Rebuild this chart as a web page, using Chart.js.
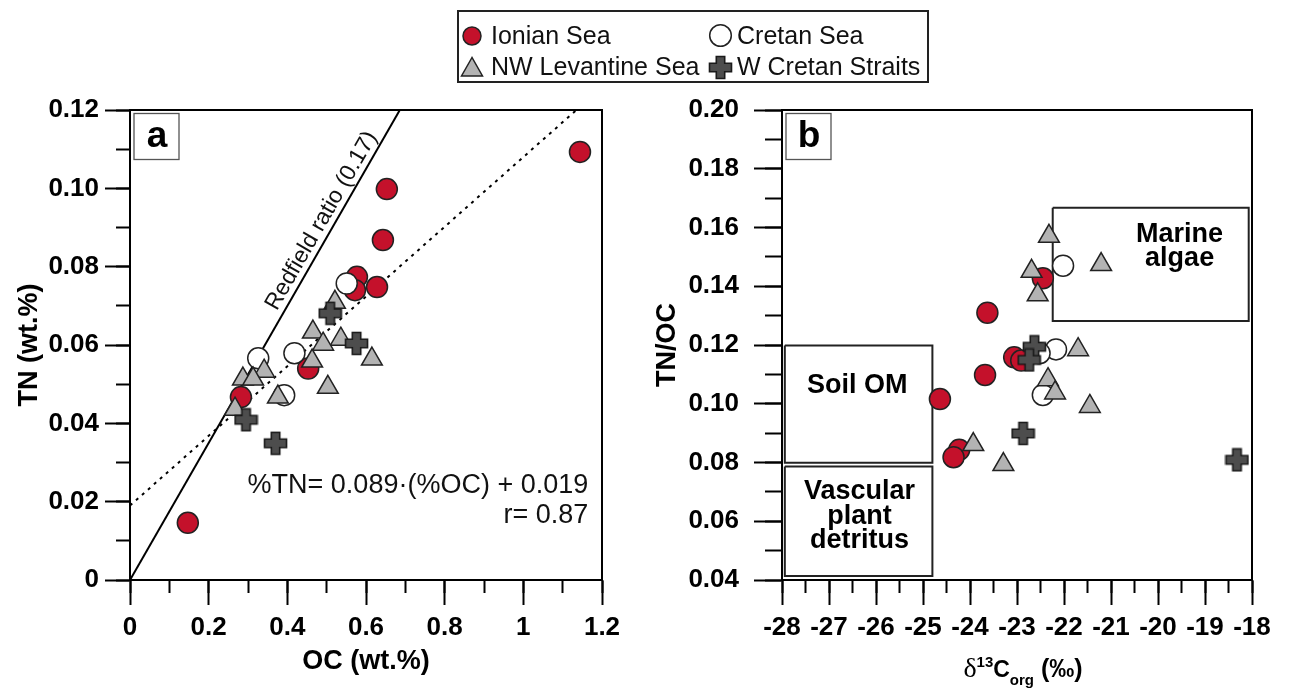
<!DOCTYPE html>
<html>
<head>
<meta charset="utf-8">
<script src="https://cdn.jsdelivr.net/npm/chart.js@4.4.1/dist/chart.umd.min.js"></script>
<style>
  body { margin: 0; background: #fff; }
  #wrap { position: relative; width: 1289px; height: 695px; overflow: hidden; background: #fff;
          font-family: "Liberation Sans", Arial, sans-serif; }
  #wrap canvas { position: absolute; left: 0; top: 0; }
  #legendBox { position: absolute; left: 457px; top: 10px; width: 468px; height: 69px; border: 2px solid #222; }
  .lg { position: absolute; font-size: 25px; line-height: 25px; white-space: nowrap; color: #111; }
  .lg svg { position: absolute; }
</style>
</head>
<body>
<div id="wrap">
  <canvas id="chartA" width="1289" height="695"></canvas>
  <canvas id="chartB" width="1289" height="695"></canvas>
  <div id="legendBox"></div>
  <div class="lg" style="left:491px;top:23px">Ionian Sea</div>
  <div class="lg" style="left:737px;top:23px">Cretan Sea</div>
  <div class="lg" style="left:491px;top:54px">NW Levantine Sea</div>
  <div class="lg" style="left:737px;top:54px">W Cretan Straits</div>
  <svg class="lg" style="left:461px;top:25px" width="22" height="22"><circle cx="11" cy="11" r="9" fill="#c4112b" stroke="#222" stroke-width="1.5"/></svg>
  <svg class="lg" style="left:708px;top:23px" width="25" height="25"><circle cx="12.5" cy="12.5" r="10.8" fill="#fff" stroke="#222" stroke-width="1.5"/></svg>
  <svg class="lg" style="left:460px;top:56px" width="24" height="22"><polygon points="12,1.5 1.5,20 22.5,20" fill="#b3b3b3" stroke="#222" stroke-width="1.5"/></svg>
  <svg class="lg" style="left:708px;top:55px" width="25" height="25"><polygon points="8.3,1.5 16.7,1.5 16.7,8.3 23.5,8.3 23.5,16.7 16.7,16.7 16.7,23.5 8.3,23.5 8.3,16.7 1.5,16.7 1.5,8.3 8.3,8.3" fill="#4d4d4d" stroke="#1a1a1a" stroke-width="1.6"/></svg>
</div>
<script>
// ---- panel a: TN vs OC ----
const ionianOC = [0.147, 0.282, 0.453, 0.577, 0.572, 0.628, 0.643, 0.653, 1.144];
const ionianTN = [0.0146, 0.0467, 0.054, 0.0774, 0.074, 0.0748, 0.0868, 0.0998, 0.1093];
const cretanOC = [0.326, 0.418, 0.392, 0.551];
const cretanTN = [0.0566, 0.0579, 0.0472, 0.0757];
const levOC = [0.521, 0.465, 0.536, 0.491, 0.615, 0.463, 0.341, 0.287, 0.313, 0.376, 0.503, 0.267];
const levTN = [0.0709, 0.0633, 0.0615, 0.0602, 0.0564, 0.0559, 0.0533, 0.0513, 0.0513, 0.0467, 0.0492, 0.0436];
const wcsOC = [0.509, 0.576, 0.295, 0.370];
const wcsTN = [0.0681, 0.0604, 0.0409, 0.0349];

const redfieldOC = [0, 0.686];
const redfieldTN = [0, 0.12];
const regressOC = [0, 1.135];
const regressTN = [0.019, 0.12];

const xTicksA = [0, 0.2, 0.4, 0.6, 0.8, 1, 1.2];
const xLabelsA = ["0", "0.2", "0.4", "0.6", "0.8", "1", "1.2"];
const xMinorA = [0, 0.1, 0.2, 0.3, 0.4, 0.5, 0.6, 0.7, 0.8, 0.9, 1, 1.1, 1.2];
const yTicksA = [0, 0.02, 0.04, 0.06, 0.08, 0.10, 0.12];
const yLabelsA = ["0", "0.02", "0.04", "0.06", "0.08", "0.10", "0.12"];
const yMinorA = [0, 0.01, 0.02, 0.03, 0.04, 0.05, 0.06, 0.07, 0.08, 0.09, 0.10, 0.11, 0.12];

// ---- panel b: TN/OC vs d13C ----
const ionianD13 = [-22.45, -23.63, -23.06, -22.91, -23.68, -24.64, -24.23, -24.35];
const ionianRatio = [0.1427, 0.131, 0.1158, 0.1147, 0.1098, 0.1016, 0.0843, 0.0818];
const cretanD13 = [-22.02, -22.17, -22.52, -22.45];
const cretanRatio = [0.147, 0.1185, 0.1172, 0.103];
const levD13 = [-22.32, -21.21, -22.69, -22.56, -21.70, -22.34, -22.19, -21.45, -23.93, -23.29];
const levRatio = [0.157, 0.1474, 0.1451, 0.1371, 0.1184, 0.1082, 0.1037, 0.0991, 0.0861, 0.0793];
const wcsD13 = [-22.63, -22.74, -22.87, -18.32];
const wcsRatio = [0.1194, 0.1149, 0.0899, 0.0809];

const marineBoxX = [-22.24, -18.07];
const marineBoxY = [0.1282, 0.1667];
const soilBoxX = [-27.94, -24.80];
const soilBoxY = [0.0799, 0.1198];
const vascBoxX = [-27.94, -24.80];
const vascBoxY = [0.0414, 0.0786];

const xTicksB = [-28, -27, -26, -25, -24, -23, -22, -21, -20, -19, -18];
const xLabelsB = ["-28", "-27", "-26", "-25", "-24", "-23", "-22", "-21", "-20", "-19", "-18"];
const xMinorB = [-28, -27.5, -27, -26.5, -26, -25.5, -25, -24.5, -24, -23.5, -23, -22.5, -22, -21.5, -21, -20.5, -20, -19.5, -19, -18.5, -18];
const yTicksB = [0.04, 0.06, 0.08, 0.10, 0.12, 0.14, 0.16, 0.18, 0.20];
const yLabelsB = ["0.04", "0.06", "0.08", "0.10", "0.12", "0.14", "0.16", "0.18", "0.20"];
const yMinorB = [0.04, 0.05, 0.06, 0.07, 0.08, 0.09, 0.10, 0.11, 0.12, 0.13, 0.14, 0.15, 0.16, 0.17, 0.18, 0.19, 0.20];

// annotation text
const redfieldLabel = "Redfield ratio (0.17)";
const redfieldLabelAt = [0.487, 0.0917];
const eqLines = ["%TN= 0.089·(%OC) + 0.019", "r= 0.87"];
const eqAt = [1.165, 0.0222];
const boxTexts = [
  { lines: ["Marine", "algae"], at: [-19.54, 0.1552] },
  { lines: ["Soil OM"], at: [-26.40, 0.1036] },
  { lines: ["Vascular", "plant", "detritus"], at: [-26.35, 0.0675] },
];

const FONT = '"Liberation Sans", Arial, sans-serif';
const RED = "#c4112b";
const GREY = "#b3b3b3";
const EDGE = "#222";

function pts(xs, ys) {
  return xs.map((x, i) => ({ x, y: ys[i] }));
}

function boxPts(bx, by) {
  return pts([bx[0], bx[1], bx[1], bx[0], bx[0]], [by[1], by[1], by[0], by[0], by[1]]);
}

function plusMarker() {
  const c = document.createElement("canvas");
  c.width = 25;
  c.height = 25;
  const g = c.getContext("2d");
  const m = 12.5, h = 4.2, L = 11;
  g.beginPath();
  g.moveTo(m - h, m - L); g.lineTo(m + h, m - L); g.lineTo(m + h, m - h);
  g.lineTo(m + L, m - h); g.lineTo(m + L, m + h); g.lineTo(m + h, m + h);
  g.lineTo(m + h, m + L); g.lineTo(m - h, m + L); g.lineTo(m - h, m + h);
  g.lineTo(m - L, m + h); g.lineTo(m - L, m - h); g.lineTo(m - h, m - h);
  g.closePath();
  g.fillStyle = "#4d4d4d";
  g.fill();
  g.lineWidth = 1.6;
  g.strokeStyle = "#1a1a1a";
  g.stroke();
  return c;
}
const plus = plusMarker();

function groups(ion, cre, lev, wcs) {
  return [
    { label: "W Cretan Straits", data: wcs, pointStyle: plus, pointRadius: 12, order: 0 },
    { label: "NW Levantine Sea", data: lev, pointStyle: "triangle", pointRadius: 12,
      backgroundColor: GREY, borderColor: EDGE, borderWidth: 1.5, order: 1 },
    { label: "Cretan Sea", data: cre, pointStyle: "circle", pointRadius: 10.5,
      backgroundColor: "#fff", borderColor: EDGE, borderWidth: 1.5, order: 2 },
    { label: "Ionian Sea", data: ion, pointStyle: "circle", pointRadius: 10.5,
      backgroundColor: RED, borderColor: EDGE, borderWidth: 1.5, order: 3 },
  ];
}

function scalesFor(c) {
  const tickFont = { family: FONT, size: 26, weight: "bold" };
  const titleFont = { family: FONT, size: 27, weight: "bold" };
  const set = (vals) => (s) => { s.ticks = vals.map((v) => ({ value: v })); };
  return {
    x: {
      type: "linear", position: "bottom", weight: 1, min: c.xMin, max: c.xMax,
      afterBuildTicks: set(c.xTicks),
      afterFit: (s) => { s.height = 115; },
      ticks: { callback: (v, i) => c.xLabels[i], font: tickFont, color: "#000", padding: 7, autoSkip: false, maxRotation: 0 },
      grid: { drawOnChartArea: false, tickLength: 25, tickWidth: 2, tickColor: "#000" },
      border: { display: true, color: "#000", width: 2 },
      title: c.xTitle
        ? { display: true, text: c.xTitle, color: "#000", font: titleFont, padding: { top: 0, bottom: 17 } }
        : { display: false },
    },
    xm: {
      type: "linear", position: "bottom", weight: 0, min: c.xMin, max: c.xMax,
      afterBuildTicks: set(c.xMinor),
      afterFit: (s) => { s.height = 0; },
      ticks: { display: false, autoSkip: false },
      grid: { drawOnChartArea: false, tickLength: 13, tickWidth: 2, tickColor: "#000" },
      border: { display: false },
    },
    y: {
      type: "linear", position: "left", weight: 1, min: c.yMin, max: c.yMax,
      afterBuildTicks: set(c.yTicks),
      afterFit: (s) => { s.width = c.yWidth; },
      ticks: { callback: (v, i) => c.yLabels[i], font: tickFont, color: "#000", padding: c.yPad, autoSkip: false },
      grid: { drawOnChartArea: false, tickLength: c.yTick, tickWidth: 2, tickColor: "#000" },
      border: { display: true, color: "#000", width: 2 },
      title: { display: true, text: c.yTitle, color: "#000", font: titleFont, padding: { top: c.yTitlePad, bottom: 0 } },
    },
    ym: {
      type: "linear", position: "left", weight: 0, min: c.yMin, max: c.yMax,
      afterBuildTicks: set(c.yMinor),
      afterFit: (s) => { s.width = 0; },
      ticks: { display: false, autoSkip: false },
      grid: { drawOnChartArea: false, tickLength: c.yMinorTick, tickWidth: 2, tickColor: "#000" },
      border: { display: false },
    },
  };
}

function frameAndLetter(chart, letter) {
  const { ctx, chartArea: a } = chart;
  ctx.save();
  ctx.strokeStyle = "#000";
  ctx.lineWidth = 2;
  ctx.strokeRect(a.left, a.top, a.right - a.left, a.bottom - a.top);
  ctx.strokeStyle = "#555";
  ctx.lineWidth = 1.3;
  ctx.strokeRect(a.left + 4, a.top + 3.5, 45, 46);
  ctx.fillStyle = "#000";
  ctx.font = "bold 37px " + FONT;
  ctx.textAlign = "center";
  ctx.textBaseline = "alphabetic";
  ctx.fillText(letter, a.left + 27, a.top + 37);
  ctx.restore();
}

const panelADecor = {
  id: "panelADecor",
  afterDraw(chart) {
    const { ctx } = chart;
    const sx = chart.scales.x, sy = chart.scales.y;
    frameAndLetter(chart, "a");
    ctx.save();
    // Redfield label along the solid line
    const p0x = sx.getPixelForValue(redfieldOC[0]), p0y = sy.getPixelForValue(redfieldTN[0]);
    const p1x = sx.getPixelForValue(redfieldOC[1]), p1y = sy.getPixelForValue(redfieldTN[1]);
    ctx.translate(sx.getPixelForValue(redfieldLabelAt[0]), sy.getPixelForValue(redfieldLabelAt[1]));
    ctx.rotate(Math.atan2(p1y - p0y, p1x - p0x));
    ctx.font = "23px " + FONT;
    ctx.fillStyle = "#111";
    ctx.textAlign = "center";
    ctx.textBaseline = "middle";
    ctx.fillText(redfieldLabel, 0, 0);
    ctx.restore();
    // regression equation
    ctx.save();
    ctx.font = "27px " + FONT;
    ctx.fillStyle = "#111";
    ctx.textAlign = "right";
    ctx.textBaseline = "alphabetic";
    const ex = sx.getPixelForValue(eqAt[0]), ey = sy.getPixelForValue(eqAt[1]);
    eqLines.forEach((t, i) => ctx.fillText(t, ex, ey + i * 30));
    ctx.restore();
  },
};

const panelBDecor = {
  id: "panelBDecor",
  afterDraw(chart) {
    const { ctx } = chart;
    const sx = chart.scales.x, sy = chart.scales.y;
    frameAndLetter(chart, "b");
    ctx.save();
    ctx.font = "bold 27px " + FONT;
    ctx.fillStyle = "#000";
    ctx.textAlign = "center";
    ctx.textBaseline = "alphabetic";
    boxTexts.forEach((b) => {
      const bx = sx.getPixelForValue(b.at[0]), by = sy.getPixelForValue(b.at[1]);
      b.lines.forEach((t, i) => ctx.fillText(t, bx, by + i * 24.5));
    });
    ctx.restore();
    // x-axis title: delta 13 C org (permil)
    ctx.save();
    ctx.fillStyle = "#000";
    ctx.textBaseline = "alphabetic";
    ctx.textAlign = "left";
    const parts = [
      { t: "\u03B4", f: '28px "Liberation Serif", serif', dy: 0 },
      { t: "13", f: "bold 15px " + FONT, dy: -10 },
      { t: "C", f: "bold 23px " + FONT, dy: 0 },
      { t: "org", f: "bold 15px " + FONT, dy: 8 },
      { t: " (\u2030)", f: "bold 25px " + FONT, dy: 0 },
    ];
    let total = 0;
    parts.forEach((p) => { ctx.font = p.f; p.w = ctx.measureText(p.t).width; total += p.w; });
    const cx = (chart.chartArea.left + chart.chartArea.right) / 2 + 6;
    let x = cx - total / 2;
    const base = 677;
    parts.forEach((p) => { ctx.font = p.f; ctx.fillText(p.t, x, base + p.dy); x += p.w; });
    ctx.restore();
  },
};

const common = {
  responsive: false,
  animation: false,
  devicePixelRatio: 1,
  plugins: { legend: { display: false }, tooltip: { enabled: false } },
};

new Chart(document.getElementById("chartA"), {
  type: "scatter",
  data: {
    datasets: [
      ...groups(pts(ionianOC, ionianTN), pts(cretanOC, cretanTN), pts(levOC, levTN), pts(wcsOC, wcsTN)),
      { label: "Redfield", data: pts(redfieldOC, redfieldTN), showLine: true, pointRadius: 0,
        borderColor: "#000", borderWidth: 2, order: 5 },
      { label: "Regression", data: pts(regressOC, regressTN), showLine: true, pointRadius: 0,
        borderColor: "#000", borderWidth: 2, borderDash: [3, 5], order: 6 },
    ],
  },
  options: {
    ...common,
    layout: { padding: { left: 0, right: 1289 - 602, top: 110, bottom: 0 } },
    scales: scalesFor({
      xMin: 0, xMax: 1.2, xTicks: xTicksA, xLabels: xLabelsA, xMinor: xMinorA, xTitle: "OC (wt.%)",
      yMin: 0, yMax: 0.12, yTicks: yTicksA, yLabels: yLabelsA, yMinor: yMinorA, yTitle: "TN (wt.%)",
      yWidth: 130, yPad: 6, yTick: 25, yMinorTick: 14, yTitlePad: 13,
    }),
  },
  plugins: [panelADecor],
});

new Chart(document.getElementById("chartB"), {
  type: "scatter",
  data: {
    datasets: [
      ...groups(pts(ionianD13, ionianRatio), pts(cretanD13, cretanRatio), pts(levD13, levRatio), pts(wcsD13, wcsRatio)),
      { label: "Marine algae", data: boxPts(marineBoxX, marineBoxY), showLine: true, pointRadius: 0,
        borderColor: EDGE, borderWidth: 2, order: 5 },
      { label: "Soil OM", data: boxPts(soilBoxX, soilBoxY), showLine: true, pointRadius: 0,
        borderColor: EDGE, borderWidth: 2, order: 5 },
      { label: "Vascular plant detritus", data: boxPts(vascBoxX, vascBoxY), showLine: true, pointRadius: 0,
        borderColor: EDGE, borderWidth: 2, order: 5 },
    ],
  },
  options: {
    ...common,
    layout: { padding: { left: 640, right: 1289 - 1252, top: 110, bottom: 0 } },
    scales: scalesFor({
      xMin: -28, xMax: -18, xTicks: xTicksB, xLabels: xLabelsB, xMinor: xMinorB, xTitle: null,
      yMin: 0.04, yMax: 0.20, yTicks: yTicksB, yLabels: yLabelsB, yMinor: yMinorB, yTitle: "TN/OC",
      yWidth: 142, yPad: 15, yTick: 28, yMinorTick: 17, yTitlePad: 11,
    }),
  },
  plugins: [panelBDecor],
});
</script>
</body>
</html>
